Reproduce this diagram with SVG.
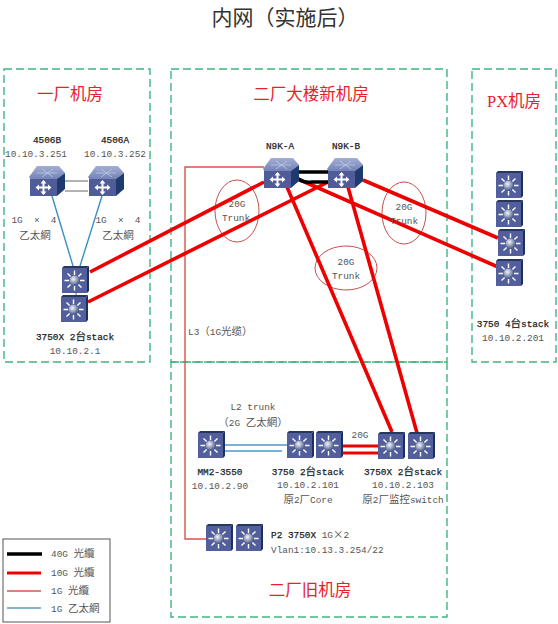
<svg xmlns="http://www.w3.org/2000/svg" width="558" height="624" viewBox="0 0 558 624">
<style>
text{font-family:"Liberation Mono","Noto Sans CJK SC",monospace;font-size:9.4px;fill:#555}
.z{font-family:"Noto Sans CJK SC",sans-serif;font-size:10.5px;font-weight:normal}
.c{text-anchor:middle}
.b{fill:#222;stroke:#222;stroke-width:.25}
.room{font-family:"Liberation Serif","Noto Sans CJK SC",serif;font-size:16.5px;fill:#e8202a;text-anchor:middle}
.zone{fill:none;stroke:#3fb67f;stroke-width:1.4;stroke-dasharray:8 4}
.r10{stroke:#ee0000;stroke-width:3.6;fill:none}
.r1{stroke:#d9534f;stroke-width:1.4;fill:none}
.b1{stroke:#3a8fc0;stroke-width:1.4;fill:none}
.k40{stroke:#000;stroke-width:3.4;fill:none}
.ell{fill:none;stroke:#c8504e;stroke-width:1}
</style>
<defs>
<radialGradient id="ball" cx="40%" cy="35%" r="70%"><stop offset="0" stop-color="#f4f6fb"/><stop offset="1" stop-color="#3d4f80"/></radialGradient>
<linearGradient id="top" x1="0" y1="0" x2="0" y2="1"><stop offset="0" stop-color="#a3afd3"/><stop offset="1" stop-color="#6f7fb4"/></linearGradient>
<g id="l3">
<rect x="0" y="2" width="25" height="25" fill="#525f9c"/>
<path d="M0 2L2 0H27L25 2Z" fill="#26365f"/>
<path d="M25 2L27 0V25L25 27Z" fill="#1c3060"/>
<g stroke="#fff" stroke-width="1.4">
<path d="M12.5 4.5V9M12.5 20V24.500M2.500 14.500H7M18 14.500H22.500M5.500 7.500L8.600 10.600M16.400 18.400L19.500 21.500M19.500 7.500L16.400 10.600M8.600 18.400L5.500 21.500"/>
</g>
<circle cx="12.5" cy="14.5" r="5" fill="url(#ball)"/>
</g>
<g id="core">
<path d="M0 11L8 0H30L36 7L27 14H2Z" fill="url(#top)"/>
<path d="M8 7H28M13 3L24 11M24 3L13 11" stroke="#c5cde6" stroke-width=".7" fill="none"/>
<rect x="1" y="13" width="27" height="17" fill="#4f5c98"/>
<path d="M28 13L36 7V23L28 30Z" fill="#1e3a6e"/>
<path d="M14.500 15V28M8 21.500H21" stroke="#fff" stroke-width="2"/>
<path d="M14.500 14L11.500 17.500H17.500ZM14.500 29L11.500 25.500H17.500ZM6.500 21.500L10 18.500V24.500ZM22.500 21.500L19 18.500V24.500Z" fill="#fff"/>
</g>
</defs>
<rect width="558" height="624" fill="#fff"/>
<text x="285" y="25" class="c" style="font-family:'Noto Sans CJK SC',sans-serif;font-size:21px;fill:#333">内网（实施后）</text>
<g id="zones">
<rect class="zone" x="4" y="69" width="146" height="293"/>
<rect class="zone" x="171" y="69" width="276" height="293"/>
<rect class="zone" x="171" y="362" width="276" height="255"/>
<rect class="zone" x="472" y="69" width="84" height="293"/>
</g>
<g id="connectors">
<path class="r1" d="M264 167H185V539H207"/>
<ellipse class="ell" cx="237" cy="211" rx="22" ry="31"/>
<ellipse class="ell" cx="404" cy="213" rx="22" ry="31"/>
<ellipse class="ell" cx="346" cy="268" rx="31" ry="22"/>
<path class="r10" d="M90 272L264 182M88 302L328 182M298 179L498 267M363 180L498 238M287 187L392 432M348 187L417 433"/>
<path class="k40" d="M298 172H328M298 179Q304 183 312 182H328"/>
<path d="M65 181H88M65 191H88" stroke="#666" stroke-width="1.2"/>
<path class="b1" d="M52 196L73 266M102 196L80 266"/>
<path d="M76 292V295" stroke="#666"/>
<path d="M225 445H287M225 451H282" stroke="#4b9acb" stroke-width="1.5"/>
<path d="M343 446H378M343 453H378" stroke="#ee0000" stroke-width="3"/>
</g>
<g id="n4506B"><use href="#core" x="29" y="166"/><text x="47" y="143" class="c b">4506B</text><text x="36" y="157" class="c">10.10.3.251</text></g>
<g id="n4506A"><use href="#core" x="88" y="166"/><text x="115" y="143" class="c b">4506A</text><text x="115" y="157" class="c">10.10.3.252</text></g>
<g id="n3750X-1"><use href="#l3" x="62" y="266"/><use href="#l3" x="61" y="295"/><text x="75" y="340" class="c b">3750X 2<tspan class="z">台</tspan>stack</text><text x="75" y="354" class="c">10.10.2.1</text></g>
<g id="nN9KA"><use href="#core" x="263" y="158"/><text x="280" y="149" class="c b">N9K-A</text></g>
<g id="nN9KB"><use href="#core" x="327" y="158"/><text x="346" y="149" class="c b">N9K-B</text></g>
<g id="nPX"><use href="#l3" x="496" y="171"/><use href="#l3" x="496" y="200"/><use href="#l3" x="498" y="229"/><use href="#l3" x="496" y="259"/><text x="513" y="327" class="c b">3750 4<tspan class="z">台</tspan>stack</text><text x="513" y="341" class="c">10.10.2.201</text></g>
<g id="nMM2"><use href="#l3" x="198" y="431"/><text x="220" y="475" class="c b">MM2-3550</text><text x="220" y="489" class="c">10.10.2.90</text></g>
<g id="n3750"><use href="#l3" x="287" y="431"/><use href="#l3" x="316" y="431"/><text x="308" y="475" class="c b">3750 2<tspan class="z">台</tspan>stack</text><text x="308" y="488" class="c">10.10.2.101</text><text x="308" y="503" class="c"><tspan class="z">原</tspan>2<tspan class="z">厂</tspan>Core</text></g>
<g id="n3750X-2"><use href="#l3" x="378" y="432"/><use href="#l3" x="408" y="432"/><text x="403" y="475" class="c b">3750X 2<tspan class="z">台</tspan>stack</text><text x="403" y="488" class="c">10.10.2.103</text><text x="403" y="503" class="c"><tspan class="z">原</tspan>2<tspan class="z">厂监控</tspan>switch</text></g>
<g id="nP2"><use href="#l3" x="206" y="524"/><use href="#l3" x="236" y="524"/><text x="271" y="538"><tspan class="b">P2 3750X</tspan> 1G<tspan class="z">×</tspan>2</text><text x="271" y="553">Vlan1:10.13.3.254/22</text></g>
<g id="labels">
<text x="70" y="100" class="room">一厂机房</text>
<text x="311" y="100" class="room">二厂大楼新机房</text>
<text x="514" y="107" class="room">PX机房</text>
<text x="310" y="596" class="room">二厂旧机房</text>
<text x="34" y="223" class="c" xml:space="preserve">1G  ×  4</text><text x="35" y="239" class="c"><tspan class="z">乙太網</tspan></text>
<text x="118" y="223" class="c" xml:space="preserve">1G  ×  4</text><text x="118" y="239" class="c"><tspan class="z">乙太網</tspan></text>
<text x="237" y="207" class="c">20G</text><text x="236" y="221" class="c">Trunk</text>
<text x="404" y="210" class="c">20G</text><text x="404" y="224" class="c">Trunk</text>
<text x="346" y="265" class="c">20G</text><text x="346" y="279" class="c">Trunk</text>
<text x="188" y="335">L3<tspan class="z">（</tspan>1G<tspan class="z">光缆）</tspan></text>
<text x="253" y="410" class="c">L2 trunk</text><text x="253" y="426" class="c"><tspan class="z">（</tspan>2G <tspan class="z">乙太網）</tspan></text>
<text x="360" y="438" class="c">20G</text>
</g>
<g id="legend">
<rect x="3" y="539" width="107" height="83" fill="#fff" stroke="#555" stroke-width="1"/>
<path d="M7 554H42" stroke="#000" stroke-width="3.4"/>
<path d="M7 573H41" stroke="#ee0000" stroke-width="3"/>
<path d="M7 591H41" stroke="#d9534f" stroke-width="1.4"/>
<path d="M7 608H41" stroke="#5b9bc0" stroke-width="1.4"/>
<text x="51" y="557">40G <tspan class="z">光纜</tspan></text>
<text x="51" y="576">10G <tspan class="z">光纜</tspan></text>
<text x="51" y="594">1G <tspan class="z">光纜</tspan></text>
<text x="51" y="612">1G <tspan class="z">乙太網</tspan></text>
</g>
</svg>
